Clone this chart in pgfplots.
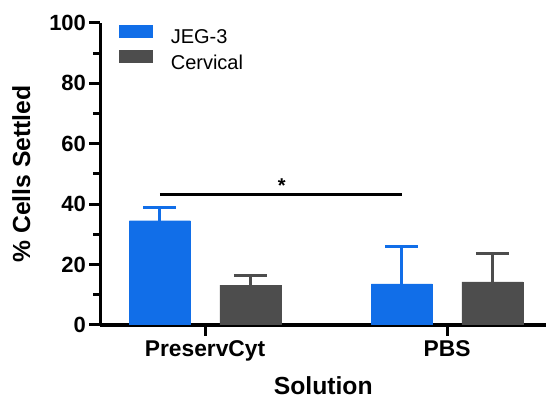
\documentclass[border=0pt]{standalone}
\usepackage{fontspec}
\setmainfont{Liberation Sans}
\usepackage{pgfplots}
\pgfplotsset{compat=1.18}
\definecolor{jeg}{RGB}{17,110,232}
\definecolor{cerv}{RGB}{77,77,77}
\begin{document}
\begin{tikzpicture}
\begin{axis}[
  name=ax,
  scale only axis, width=445.5pt, height=302.2pt,
  xmin=-0.432, xmax=1.409, ymin=0, ymax=100,
  axis x line=bottom, axis y line=left,
  axis line style={-, line width=3.5pt, black},
  xtick={0,1}, xticklabels={PreservCyt,PBS},
  ytick={0,20,...,100}, minor y tick num=1,
  tick align=outside,
  major tick length=11pt, minor tick length=7pt,
  every tick/.style={line width=3pt, black},
  /pgf/number format/assume math mode=true,
  tick label style={font=\fontsize{22}{26}\selectfont\bfseries},
  x tick label style={yshift=-1pt, font=\fontsize{22.8}{26}\selectfont\bfseries},
  xlabel={Solution}, ylabel={\% Cells Settled},
  label style={font=\fontsize{24.7}{28}\selectfont\bfseries},
  xlabel style={inner sep=0pt, yshift=-11.5pt},
  ylabel style={yshift=12pt},
  legend style={at={(axis description cs:0.042,0.995)}, anchor=north west,
    draw=none, fill=none, inner sep=0pt, font=\fontsize{20}{24}\selectfont,
    column sep=16pt, row sep=3pt},
  legend cell align=left,
]
\addplot[ybar, bar width=0.252, bar shift=0pt, fill=jeg, draw=jeg,
  legend image code/.code={\fill[jeg] (0pt,0.5pt) rectangle (33pt,12.5pt);},
  error bars/.cd, y dir=plus, y explicit,
  error bar style={line width=3pt, jeg},
  error mark options={rotate=90, jeg, line width=3pt, mark size=16.5pt}]
  table[x=x, y=y, y error=e] {
x y e
-0.187 34.5 4.4
0.813 13.6 12.5
};
\addlegendentry{JEG-3}
\addplot[ybar, bar width=0.252, bar shift=0pt, fill=cerv, draw=cerv,
  legend image code/.code={\fill[cerv] (0pt,0.5pt) rectangle (33pt,12.5pt);},
  error bars/.cd, y dir=plus, y explicit,
  error bar style={line width=3pt, cerv},
  error mark options={rotate=90, cerv, line width=3pt, mark size=16.5pt}]
  table[x=x, y=y, y error=e] {
x y e
0.187 13.2 3.3
1.187 14.3 9.3
};
\addlegendentry{Cervical}
\addplot[line width=3pt, black, forget plot] coordinates {(-0.187,43.2) (0.813,43.2)};
\node[font=\fontsize{20}{24}\selectfont\bfseries] at (axis cs:0.317,46.0) {*};
\end{axis}
\pgfresetboundingbox
\path[use as bounding box] ([xshift=-100.5pt,yshift=-73pt]ax.south west) rectangle ([xshift=1pt,yshift=22.8pt]ax.north east);
\end{tikzpicture}
\end{document}
